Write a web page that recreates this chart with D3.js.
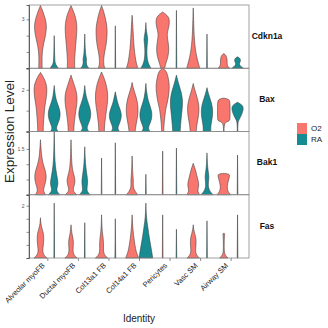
<!DOCTYPE html>
<html>
<head>
<meta charset="utf-8">
<script src="https://cdn.jsdelivr.net/npm/d3@7"></script>
<style>
  body { margin: 0; background: #fff; }
  svg { display: block; font-family: "Liberation Sans", Arial, sans-serif; }
</style>
</head>
<body>
<div id="chart"></div>
<script>
// categories
const identities = ["Alveolar myoFB", "Ductal myoFB", "Col13a1 FB", "Col14a1 FB", "Pericytes", "Vasc SM", "Airway SM"];
const groups = ["O2", "RA"];
const genes = ["Cdkn1a", "Bax", "Bak1", "Fas"];

// y limits and ticks of each panel
const geneMax = [3.88, 3.03, 2.07, 2.42];
const geneTicks = [[0, 1, 2, 3], [0, 1, 2], [0, 0.5, 1, 1.5], [0, 0.5, 1, 1.5, 2]];
const geneTickLabels = [[3], [2], [1.5], [2]];

// violin profiles: [expression value, relative density], per identity O2 then RA
const cdkn1a = [
  [[0,0.25],[0.5,0.22],[1.0,0.25],[1.5,0.45],[2.0,0.75],[2.5,0.9],[2.9,0.8],[3.3,0.5],[3.6,0.25],[3.85,0]],
  [[0,0.6],[0.15,0.35],[0.3,0.12],[0.6,0.08],[1.0,0.05],[1.5,0.03],[2.0,0]],
  [[0,0.55],[0.5,0.5],[1.0,0.6],[1.5,0.7],[2.0,0.8],[2.5,0.88],[3.0,0.75],[3.4,0.45],[3.85,0]],
  [[0,0.6],[0.15,0.3],[0.35,0.2],[0.55,0.28],[0.75,0.15],[1.2,0.06],[2.1,0]],
  [[0,0.5],[0.2,0.3],[0.6,0.3],[1.0,0.45],[1.5,0.7],[2.0,0.8],[2.5,0.82],[3.0,0.6],[3.5,0.3],[3.85,0]],
  [[0,0.05],[2.6,0]],
  [[0,0.85],[0.3,0.6],[0.7,0.45],[1.2,0.3],[1.8,0.2],[2.5,0.12],[3.25,0]],
  [[0,0.75],[0.2,0.45],[0.5,0.2],[1.0,0.12],[1.5,0.2],[1.8,0.3],[2.1,0.15],[2.4,0.05],[2.8,0]],
  [[0,0.3],[0.3,0.45],[0.7,0.8],[1.2,0.92],[1.6,0.8],[2.1,0.58],[2.5,0.9],[2.9,1.0],[3.2,0.85],[3.45,0]],
  [[0,0.05],[3.55,0]],
  [[0,0.95],[0.3,0.75],[0.7,0.5],[1.2,0.3],[1.7,0.18],[2.3,0.1],[3.0,0.05],[3.7,0]],
  [[0,0.05],[2.1,0]],
  [[0,0.85],[0.1,0.6],[0.25,0.45],[0.45,0.5],[0.65,0.45],[0.8,0.3],[0.9,0]],
  [[0,0.85],[0.1,0.5],[0.25,0.2],[0.35,0.35],[0.5,0.45],[0.62,0.35],[0.7,0]]
];

const bax = [
  [[0,0.4],[0.4,0.42],[0.85,0.55],[1.2,0.62],[1.6,0.85],[2.0,0.97],[2.3,0.85],[2.6,0.45],[2.83,0]],
  [[0,0.55],[0.15,0.25],[0.35,0.5],[0.6,0.8],[0.85,0.9],[1.1,0.75],[1.4,0.4],[1.7,0.15],[2.2,0]],
  [[0,0.4],[0.4,0.45],[0.9,0.65],[1.3,0.85],[1.6,0.9],[1.9,0.8],[2.3,0.4],[2.7,0]],
  [[0,0.6],[0.15,0.25],[0.35,0.5],[0.65,0.85],[0.9,0.9],[1.2,0.7],[1.5,0.35],[1.8,0.12],[2.2,0]],
  [[0,0.4],[0.4,0.45],[0.9,0.65],[1.3,0.85],[1.7,0.92],[2.1,0.8],[2.5,0.45],[2.85,0]],
  [[0,0.6],[0.15,0.3],[0.35,0.55],[0.6,0.85],[0.85,0.9],[1.1,0.65],[1.4,0.3],[1.9,0]],
  [[0,0.45],[0.3,0.55],[0.7,0.8],[1.0,0.88],[1.4,0.8],[1.8,0.45],[2.1,0.15],[2.35,0]],
  [[0,0.6],[0.15,0.3],[0.35,0.55],[0.6,0.85],[0.87,0.9],[1.15,0.7],[1.5,0.3],[1.9,0.1],[2.3,0]],
  [[0,0.15],[0.4,0.2],[0.8,0.35],[1.1,0.45],[1.4,0.7],[1.8,0.9],[2.2,1.0],[2.6,0.8],[2.9,0.55],[3.03,0]],
  [[0,0.55],[0.3,0.6],[0.7,0.7],[1.1,0.85],[1.5,0.92],[1.9,0.7],[2.3,0.3],[2.7,0]],
  [[0,0.45],[0.3,0.5],[0.7,0.75],[1.1,0.88],[1.5,0.7],[1.9,0.3],[2.3,0]],
  [[0,0.55],[0.3,0.55],[0.6,0.75],[1.0,0.88],[1.4,0.65],[1.75,0.25],[2.1,0]],
  [[0,0.04],[0.45,0.05],[0.5,0.85],[0.6,0.92],[1.4,0.92],[1.55,0.8],[1.6,0]],
  [[0,0.04],[0.45,0.05],[0.55,0.2],[0.8,0.6],[1.05,0.85],[1.25,0.8],[1.4,0]]
];

const bak1 = [
  [[0,0.75],[0.1,0.45],[0.2,0.45],[0.4,0.75],[0.6,0.88],[0.8,0.7],[1.0,0.4],[1.2,0.2],[1.5,0.08],[1.8,0]],
  [[0,0.85],[0.1,0.4],[0.2,0.35],[0.35,0.6],[0.55,0.45],[0.8,0.25],[1.1,0.1],[1.5,0.05],[2.07,0]],
  [[0,0.85],[0.1,0.35],[0.2,0.3],[0.35,0.55],[0.5,0.6],[0.7,0.35],[0.9,0.15],[1.3,0.06],[1.8,0]],
  [[0,0.8],[0.1,0.35],[0.2,0.3],[0.4,0.45],[0.6,0.35],[0.9,0.15],[1.2,0.06],[1.57,0]],
  [[0,0.05],[1.2,0]],
  [[0,0.05],[1.7,0]],
  [[0,0.85],[0.1,0.45],[0.25,0.12],[0.45,0.2],[0.6,0.12],[0.9,0.05],[1.27,0]],
  [[0,0.05],[0.67,0]],
  [[0,0.05],[1.43,0]],
  [[0,0.05],[1.53,0]],
  [[0,0.95],[0.1,0.65],[0.2,0.7],[0.35,0.85],[0.55,0.6],[0.75,0.4],[0.9,0.2],[1.03,0]],
  [[0,0.9],[0.1,0.45],[0.25,0.15],[0.45,0.22],[0.6,0.3],[0.75,0.18],[1.0,0.06],[1.37,0]],
  [[0,1.0],[0.1,0.6],[0.25,0.45],[0.45,0.65],[0.6,0.85],[0.68,0.85],[0.7,0]],
  [[0,0.05],[1.3,0]]
];

const fas = [
  [[0,0.95],[0.1,0.5],[0.25,0.3],[0.45,0.4],[0.7,0.5],[0.95,0.45],[1.15,0.2],[1.3,0.06],[1.54,0]],
  [[0,0.05],[2.1,0]],
  [[0,0.9],[0.1,0.45],[0.25,0.25],[0.5,0.35],[0.7,0.35],[0.9,0.15],[1.1,0.05],[1.27,0]],
  [[0,0.05],[1.35,0]],
  [[0,0.9],[0.1,0.45],[0.25,0.25],[0.5,0.3],[0.75,0.25],[1.0,0.1],[1.3,0.04],[1.65,0]],
  [[0,0.08],[0.05,0.05],[1.5,0]],
  [[0,0.95],[0.15,0.7],[0.35,0.5],[0.6,0.35],[0.9,0.2],[1.2,0.08],[1.65,0]],
  [[0,1.0],[0.25,0.85],[0.55,0.65],[0.8,0.48],[1.1,0.33],[1.4,0.15],[1.7,0.05],[2.1,0]],
  [[0,0.05],[1.65,0]],
  [[0,0.05],[1.1,0]],
  [[0,0.9],[0.1,0.5],[0.25,0.3],[0.5,0.42],[0.75,0.42],[0.95,0.2],[1.1,0.06],[1.27,0]],
  [[0,0.05],[1.42,0]],
  [[0,0.6],[0.1,0.25],[0.2,0.06],[0.6,0.05],[0.85,0.1],[0.92,0.15],[0.96,0]],
  [[0,0.05],[1.65,0]]
];

const geneProfiles = [cdkn1a, bax, bak1, fas];

/** LAYOUT */
const width = 328, height = 328;
const plot = { left: 29, right: 249, top: 5, bottom: 258 };
const panelH = (plot.bottom - plot.top) / genes.length;

const x = d3.scaleLinear()
  .domain([0.4, identities.length + 0.6])
  .range([plot.left, plot.right]);
const unit = x(1) - x(0);
const dodge = 0.225 * unit;   // offset of each group from the identity centre
const halfW = 0.225 * unit;   // half-width of a violin at density 1

const color = d3.scaleOrdinal().domain(groups).range(["#F8766D", "#178B92"]);

const svg = d3.select("#chart").append("svg")
  .attr("width", width)
  .attr("height", height);

genes.forEach((gene, gi) => {
  const top = plot.top + gi * panelH;
  const y = d3.scaleLinear().domain([0, geneMax[gi]]).range([top + panelH, top]);
  const g = svg.append("g").attr("class", "panel");

  const violins = geneProfiles[gi].map((pts, k) => {
    const idx = Math.floor(k / 2);
    const grp = groups[k % 2];
    return { grp, pts, cx: x(idx + 1) + (k % 2 ? dodge : -dodge) };
  });

  g.selectAll("path.violin")
    .data(violins)
    .join("path")
    .attr("class", "violin")
    .attr("fill", d => color(d.grp))
    .attr("stroke", "#3a3a3a")
    .attr("stroke-width", 0.55)
    .attr("d", d => d3.area()
      .curve(d3.curveBasis)
      .y(p => y(p[0]))
      .x0(p => d.cx - p[1] * halfW)
      .x1(p => d.cx + p[1] * halfW)(d.pts));

  // panel frame
  g.append("rect")
    .attr("x", plot.left).attr("y", top)
    .attr("width", plot.right - plot.left).attr("height", panelH)
    .attr("fill", "none").attr("stroke", "#8a8a8a").attr("stroke-width", 0.8);

  // y axis
  const axis = g.append("g")
    .attr("transform", `translate(${plot.left},0)`)
    .call(d3.axisLeft(y)
      .tickValues(geneTicks[gi])
      .tickSize(2.5)
      .tickPadding(2)
      .tickFormat(v => geneTickLabels[gi].includes(v) ? d3.format("")(v) : ""));
  axis.select(".domain").attr("stroke", "#444").attr("stroke-width", 0.8);
  axis.selectAll(".tick line").attr("stroke", "#444").attr("stroke-width", 0.6);
  axis.selectAll(".tick text").attr("font-size", 5).attr("fill", "#555");

  // strip label
  svg.append("text")
    .attr("x", 267).attr("y", top + panelH / 2)
    .attr("text-anchor", "middle")
    .attr("dominant-baseline", "middle")
    .attr("font-size", 8.5).attr("font-weight", "bold").attr("fill", "#111")
    .text(gene);
});

// x axis
const xAxis = svg.append("g")
  .attr("transform", `translate(0,${plot.bottom})`)
  .call(d3.axisBottom(x)
    .tickValues(d3.range(1, identities.length + 1))
    .tickSize(3)
    .tickFormat(""));
xAxis.select(".domain").remove();
xAxis.selectAll(".tick line").attr("stroke", "#444").attr("stroke-width", 0.6);

svg.selectAll("text.identity")
  .data(identities)
  .join("text")
  .attr("class", "identity")
  .attr("transform", (d, i) => `translate(${x(i + 1) - 2},${plot.bottom + 8}) rotate(-45)`)
  .attr("text-anchor", "end")
  .attr("font-size", 7.5).attr("fill", "#222")
  .text(d => d);

// axis titles
svg.append("text")
  .attr("x", (plot.left + plot.right) / 2).attr("y", 322)
  .attr("text-anchor", "middle")
  .attr("font-size", 10).attr("fill", "#222")
  .text("Identity");

svg.append("text")
  .attr("transform", `translate(14,${(plot.top + plot.bottom) / 2}) rotate(-90)`)
  .attr("text-anchor", "middle")
  .attr("font-size", 13.5).attr("fill", "#222")
  .text("Expression Level");

// legend
const legend = svg.append("g").attr("transform", "translate(297,123)");
legend.selectAll("rect")
  .data(groups)
  .join("rect")
  .attr("x", 0).attr("y", (d, i) => i * 11)
  .attr("width", 10).attr("height", 11)
  .attr("fill", d => color(d));
legend.selectAll("text")
  .data(groups)
  .join("text")
  .attr("x", 14).attr("y", (d, i) => i * 11 + 5.5)
  .attr("dominant-baseline", "middle")
  .attr("font-size", 8).attr("fill", "#222")
  .text(d => d);
</script>
</body>
</html>
